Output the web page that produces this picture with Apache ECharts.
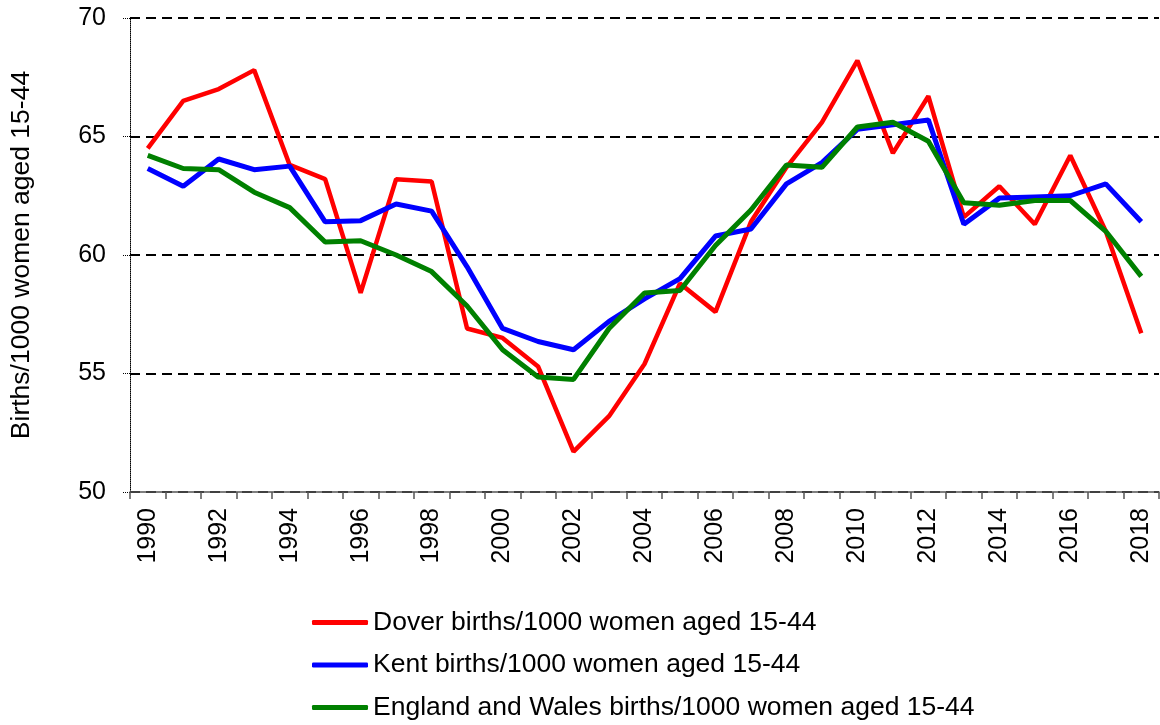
<!DOCTYPE html>
<html>
<head>
<meta charset="utf-8">
<script src="https://cdn.jsdelivr.net/npm/echarts@6/dist/echarts.min.js"></script>
<style>
  html, body { margin: 0; padding: 0; background: #fff; }
  #main { width: 1160px; height: 725px; }
</style>
</head>
<body>
<div id="main"></div>
<script>
// years on the x axis
var years = ['1990', '1991', '1992', '1993', '1994', '1995', '1996', '1997', '1998', '1999',
  '2000', '2001', '2002', '2003', '2004', '2005', '2006', '2007', '2008', '2009',
  '2010', '2011', '2012', '2013', '2014', '2015', '2016', '2017', '2018']

// births per 1000 women aged 15-44
var dover = [64.5, 66.5, 67.0, 67.8, 63.8, 63.2, 58.4, 63.2, 63.1, 56.9,
  56.5, 55.3, 51.7, 53.2, 55.4, 58.8, 57.6, 61.4, 63.7, 65.6,
  68.2, 64.3, 66.7, 61.6, 62.9, 61.3, 64.2, 61.0, 56.7]
var kent = [63.65, 62.9, 64.05, 63.6, 63.75, 61.4, 61.45, 62.15, 61.85, 59.5,
  56.9, 56.35, 56.0, 57.2, 58.15, 59.0, 60.8, 61.1, 63.0, 63.9,
  65.3, 65.5, 65.7, 61.3, 62.4, 62.45, 62.5, 63.0, 61.4]
var englandWales = [64.2, 63.65, 63.6, 62.65, 62.0, 60.55, 60.6, 60.0, 59.3, 57.85,
  56.0, 54.85, 54.75, 56.9, 58.4, 58.5, 60.4, 61.9, 63.8, 63.7,
  65.4, 65.6, 64.8, 62.2, 62.1, 62.3, 62.3, 61.0, 59.1]

var seriesNames = [
  'Dover births/1000 women aged 15-44',
  'Kent births/1000 women aged 15-44',
  'England and Wales births/1000 women aged 15-44'
]

var myChart = echarts.init(document.getElementById('main'))

var font = 'Liberation Sans, Arial, sans-serif'

var options = {
  animation: false,
  textStyle: { fontFamily: font },
  grid: { left: 130, top: 18, right: 1, bottom: 233 },
  legend: {
    orient: 'vertical',
    left: 312,
    top: 609,
    height: 160,
    padding: 0,
    itemWidth: 56,
    itemHeight: 5,
    itemGap: 15.5,
    icon: 'roundRect',
    textStyle: { fontFamily: font, fontSize: 26.5, color: '#000' },
    data: seriesNames
  },
  xAxis: {
    type: 'category',
    data: years,
    boundaryGap: true,
    axisLine: { lineStyle: { color: '#555', width: 1.5 } },
    axisTick: { show: true, interval: 0, length: 7, lineStyle: { color: '#555', width: 1.5 } },
    axisLabel: {
      interval: 1,
      rotate: 90,
      margin: 16,
      fontSize: 25,
      color: '#000',
      fontFamily: font
    }
  },
  yAxis: {
    type: 'value',
    min: 50,
    max: 70,
    interval: 5,
    name: 'Births/1000 women aged 15-44',
    nameLocation: 'middle',
    nameGap: 95,
    nameTextStyle: { fontSize: 26.5, color: '#000', fontFamily: font },
    axisLine: { show: true, lineStyle: { color: '#000', width: 1, type: 'dotted' } },
    axisTick: { show: true, length: 7, lineStyle: { color: '#000', type: 'dotted' } },
    axisLabel: { fontSize: 25, color: '#000', margin: 24, fontFamily: font },
    splitLine: { show: true, lineStyle: { color: '#000', width: 2, type: [10, 6] } }
  },
  series: [
    {
      name: seriesNames[0],
      type: 'line',
      data: dover,
      symbol: 'none',
      color: '#ff0000',
      lineStyle: { width: 4.5, color: '#ff0000' }
    },
    {
      name: seriesNames[1],
      type: 'line',
      data: kent,
      symbol: 'none',
      color: '#0000ff',
      lineStyle: { width: 5, color: '#0000ff' }
    },
    {
      name: seriesNames[2],
      type: 'line',
      data: englandWales,
      symbol: 'none',
      color: '#008000',
      lineStyle: { width: 5, color: '#008000' }
    }
  ]
}

myChart.setOption(options)
</script>
</body>
</html>
